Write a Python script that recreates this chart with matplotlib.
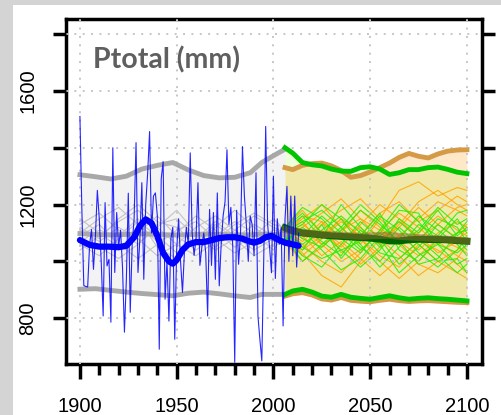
import matplotlib
matplotlib.use('Agg')
import matplotlib.pyplot as plt
from matplotlib.patches import Rectangle

# observed annual precipitation 1900-2013
obs_years = list(range(1900, 2014))
obs_values = [1510, 1180, 915, 912, 910, 1060, 1112, 972, 1090, 1250,
              1150, 1000, 808, 1207, 984, 1007, 786, 1400, 961, 1172,
              1050, 1110, 980, 751, 937, 1240, 821, 1060, 1150, 1418,
              961, 1080, 1277, 937, 1200, 1310, 1457, 1100, 1230, 1241,
              1160, 691, 1290, 1351, 867, 1000, 790, 1080, 1120, 726,
              1042, 1150, 1000, 891, 1032, 1120, 1060, 1382, 1100, 1021,
              1080, 1277, 986, 1050, 1100, 1030, 808, 1183, 986, 1172,
              937, 1241, 914, 1060, 1160, 1210, 1393, 1130, 1190, 1050,
              645, 1180, 990, 1100, 1404, 1230, 1130, 1000, 1160, 1130,
              1020, 1312, 808, 726, 650, 1010, 1475, 1130, 1050, 960,
              1300, 940, 1150, 1060, 1120, 773, 1150, 1264, 1000, 1230,
              1020, 1230, 980, 1100]

# smoothed observations
obs_smooth_years = [1900, 1905, 1910, 1915, 1920, 1924, 1928, 1931, 1934, 1937,
                    1940, 1943, 1946, 1948, 1950, 1953, 1956, 1960, 1964, 1968,
                    1972, 1976, 1980, 1984, 1987, 1990, 1993, 1996, 1999, 2002,
                    2006, 2010, 2013]
obs_smooth = [1075, 1058, 1052, 1052, 1050, 1055, 1085, 1125, 1148, 1135,
              1090, 1030, 1000, 992, 1005, 1040, 1060, 1068, 1068, 1075,
              1082, 1085, 1085, 1080, 1072, 1066, 1072, 1085, 1090, 1078,
              1066, 1060, 1055]

# historical simulations
hist_years = [1900, 1908, 1916, 1924, 1932, 1940, 1948, 1956, 1964, 1972,
              1980, 1988, 1994, 2000, 2006]
hist_upper = [1305, 1298, 1290, 1300, 1325, 1338, 1348, 1322, 1302, 1294,
              1296, 1312, 1348, 1372, 1395]
hist_lower = [902, 904, 898, 892, 887, 883, 879, 888, 892, 886,
              879, 873, 884, 884, 884]
hist_median = [1098, 1095, 1093, 1095, 1097, 1095, 1093, 1094, 1096, 1095,
               1093, 1094, 1096, 1095, 1094]

hist_run_years = [1900, 1910, 1920, 1930, 1940, 1950, 1960, 1970, 1980, 1990, 2000, 2006]
hist_runs = [
    [1130, 1170, 1110, 1060, 1120, 1180, 1100, 1050, 1110, 1160, 1120, 1100],
    [1060, 1020, 1080, 1140, 1090, 1030, 1070, 1130, 1080, 1020, 1060, 1090],
    [1100, 1150, 1190, 1130, 1070, 1100, 1160, 1110, 1050, 1090, 1150, 1110],
    [1080, 1050, 1010, 1060, 1130, 1150, 1090, 1040, 1080, 1130, 1090, 1080],
    [1150, 1100, 1050, 1100, 1160, 1090, 1040, 1090, 1140, 1100, 1040, 1100],
    [1040, 1090, 1140, 1180, 1120, 1060, 1020, 1070, 1130, 1170, 1130, 1120],
    [1110, 1070, 1120, 1080, 1020, 1060, 1120, 1160, 1110, 1060, 1100, 1090],
    [1090, 1130, 1060, 1010, 1060, 1110, 1140, 1080, 1030, 1070, 1110, 1100],
    [1120, 1080, 1150, 1200, 1140, 1120, 1060, 1120, 1180, 1120, 1070, 1110],
    [1070, 1110, 1090, 1150, 1050, 1010, 1080, 1140, 1090, 1040, 1080, 1080],
]

# projections (two scenarios)
fut_years = [2006, 2010, 2015, 2020, 2025, 2030, 2035, 2040, 2045, 2050,
             2055, 2060, 2065, 2070, 2075, 2080, 2085, 2090, 2095, 2100]
green_upper = [1400, 1381, 1348, 1340, 1336, 1325, 1318, 1317, 1330, 1333,
               1325, 1306, 1312, 1323, 1323, 1330, 1332, 1324, 1314, 1309]
green_lower = [884, 896, 902, 892, 878, 874, 884, 874, 870, 867,
               873, 879, 872, 867, 870, 872, 869, 867, 864, 861]
green_median = [1118, 1108, 1100, 1097, 1093, 1090, 1088, 1086, 1084, 1082,
                1078, 1072, 1072, 1076, 1078, 1077, 1077, 1076, 1073, 1071]
orange_upper = [1330, 1323, 1338, 1344, 1346, 1336, 1320, 1296, 1302, 1315,
                1330, 1346, 1366, 1380, 1370, 1364, 1378, 1388, 1392, 1393]
orange_lower = [878, 886, 890, 882, 868, 864, 873, 863, 860, 858,
                863, 867, 862, 859, 861, 862, 860, 858, 856, 855]
orange_median = [1112, 1106, 1102, 1098, 1095, 1094, 1092, 1090, 1088, 1090,
                 1091, 1092, 1088, 1086, 1084, 1082, 1080, 1078, 1075, 1072]

run_years = [2006, 2015, 2025, 2035, 2045, 2055, 2065, 2075, 2085, 2095, 2100]
green_runs = [
    [1110, 1160, 1080, 1200, 1120, 1050, 1150, 1100, 1180, 1090, 1120],
    [1090, 1040, 1130, 1010, 1090, 1170, 1040, 1000, 1080, 1150, 1100],
    [1120, 1190, 1150, 1080, 1030, 1110, 1200, 1140, 1060, 1030, 1060],
    [1080, 1020, 980, 1060, 1140, 1080, 990, 1050, 1130, 1080, 1040],
    [1100, 1130, 1200, 1150, 1060, 980, 1050, 1130, 1090, 1170, 1180],
    [1130, 1080, 1050, 1110, 1180, 1130, 1070, 990, 1010, 1100, 1140],
    [1070, 1110, 1040, 970, 1010, 1090, 1140, 1080, 1020, 960, 990],
    [1100, 1060, 1110, 1160, 1100, 1030, 1010, 1070, 1150, 1120, 1070],
    [1115, 1170, 1100, 1040, 1070, 1160, 1110, 1030, 980, 1040, 1090],
    [1085, 1000, 1060, 1120, 1050, 1000, 1080, 1160, 1110, 1060, 1020],
    [1105, 1140, 1180, 1120, 1200, 1140, 1060, 1110, 1190, 1130, 1150],
    [1095, 1050, 1010, 1040, 980, 1040, 1120, 1060, 1000, 1010, 960],
    [1125, 1090, 1160, 1100, 1040, 1100, 1180, 1170, 1060, 1100, 1110],
    [1075, 1120, 1070, 1020, 1110, 1060, 960, 1020, 1060, 990, 1010],
]
orange_runs = [
    [1100, 1150, 1200, 1120, 1060, 1150, 1250, 1280, 1230, 1260, 1250],
    [1090, 1030, 950, 910, 1000, 1080, 1020, 950, 1000, 960, 940],
    [1120, 1180, 1100, 1050, 1130, 1200, 1150, 1080, 1130, 1190, 1200],
    [1080, 1040, 1090, 1150, 1080, 1000, 940, 1000, 1070, 1020, 1000],
    [1110, 1070, 1130, 1180, 1220, 1150, 1090, 1150, 1210, 1180, 1160],
    [1100, 1140, 1060, 1000, 1040, 1100, 1060, 990, 960, 1010, 1060],
    [1070, 1000, 1050, 1110, 1150, 1080, 1120, 1190, 1130, 1080, 1100],
    [1130, 1090, 1020, 1070, 1010, 950, 1010, 1070, 1040, 990, 960],
    [1095, 1160, 1140, 1080, 1120, 1060, 1130, 1210, 1250, 1200, 1180],
    [1105, 1050, 1110, 1060, 990, 1050, 1090, 1040, 1100, 1140, 1120],
    [1085, 1120, 1170, 1220, 1150, 1110, 1170, 1120, 1060, 1100, 1130],
    [1115, 1060, 1000, 960, 1030, 1110, 1070, 1020, 1080, 1050, 1030],
    [1090, 1130, 1080, 1140, 1090, 1170, 1210, 1140, 1180, 1230, 1210],
    [1120, 1080, 1140, 1030, 1080, 1020, 980, 1060, 1000, 1040, 1080],
    [1075, 1110, 1060, 1100, 1180, 1120, 1060, 1100, 1160, 1110, 1090],
    [1100, 1020, 1080, 1150, 1110, 1060, 1140, 1090, 1030, 1070, 1120],
]

fig = plt.figure(figsize=(5.01, 4.15), dpi=100, facecolor='#d4d4d4')
fig.patches.append(Rectangle((13 / 501, 0), 1, 410 / 415, transform=fig.transFigure,
                             facecolor='white', edgecolor='none', zorder=-10))
ax = fig.add_axes([66 / 501, 51 / 415, 416 / 501, 345 / 415])
ax.set_facecolor('white')

# envelopes
ax.fill_between(hist_years, hist_lower, hist_upper, color='#f3f3f3', lw=0, zorder=1)
ax.fill_between(fut_years, green_lower, green_upper, color=(0.5, 1, 0), alpha=0.15, lw=0, zorder=1)
ax.fill_between(fut_years, orange_lower, orange_upper, color=(1, 0.6, 0), alpha=0.22, lw=0, zorder=1)

# grid
ax.set_axisbelow(False)
ax.grid(True, color='#c6c6c6', lw=1.4, linestyle=(0, (1, 3.3)), zorder=1.5)
for gl in ax.get_xgridlines() + ax.get_ygridlines():
    gl.set_zorder(1.5)

# thin runs
for run in hist_runs:
    ax.plot(hist_run_years, run, color='#c4c4c4', lw=0.8, zorder=2)
for run in orange_runs:
    ax.plot(run_years, run, color='#ffa500', lw=0.8, alpha=0.85, zorder=2)
for run in green_runs:
    ax.plot(run_years, run, color='#22ee00', lw=0.8, alpha=0.85, zorder=2)

# thick envelope and median lines
ax.plot(hist_years, hist_upper, color='#a8a8a8', lw=3.5, zorder=3)
ax.plot(hist_years, hist_lower, color='#a8a8a8', lw=3.5, zorder=3)
ax.plot(hist_years, hist_median, color='#a8a8a8', lw=3.5, zorder=3)
ax.plot(fut_years, orange_upper, color='#d49a45', lw=3.5, zorder=3)
ax.plot(fut_years, orange_lower, color='#d49a45', lw=3.5, zorder=3)
ax.plot(fut_years, green_upper, color='#00c400', lw=3.5, zorder=3.1)
ax.plot(fut_years, green_lower, color='#00c400', lw=3.5, zorder=3.1)
ax.plot(fut_years, green_median, color='#006400', lw=5, zorder=3.2)
ax.plot(fut_years, orange_median, color='#8b6a2a', lw=5, alpha=0.55, zorder=3.3)

# observations
ax.plot(obs_years, obs_values, color='blue', lw=0.8, alpha=0.85, zorder=4)
ax.plot(obs_smooth_years, obs_smooth, color='blue', lw=4.5, solid_capstyle='round', zorder=4.5)

# title box
ax.add_patch(Rectangle((1893, 1593), 113, 214, facecolor='white', edgecolor='none', zorder=1.6))
ax.text(1944.5, 1708, 'Ptotal (mm)', ha='center', va='center', fontsize=20.5,
        fontweight='bold', color='#5f5f5f', family='Lato', zorder=5)

ax.set_xlim(1892.8, 2107.8)
ax.set_ylim(639, 1853)
ax.set_xticks([1900, 1950, 2000, 2050, 2100])
ax.set_xticks(range(1900, 2101, 10), minor=True)
ax.set_yticks(range(800, 1801, 200))
ax.set_yticklabels(['800', '', '1200', '', '1600', ''])

for s in ax.spines.values():
    s.set_linewidth(2.5)
ax.tick_params(axis='x', which='major', length=11, width=2.5, pad=13, labelsize=14.5)
ax.tick_params(axis='x', which='minor', length=8, width=2.5)
ax.tick_params(axis='y', which='major', length=9.5, width=2.5, right=True, pad=11,
               labelsize=14.5, labelrotation=90)
for lab in ax.get_xticklabels() + ax.get_yticklabels():
    lab.set_family('Liberation Sans')
for lab in ax.get_yticklabels():
    lab.set_va('center')

fig.savefig('out.png', dpi=100, facecolor=fig.get_facecolor())
